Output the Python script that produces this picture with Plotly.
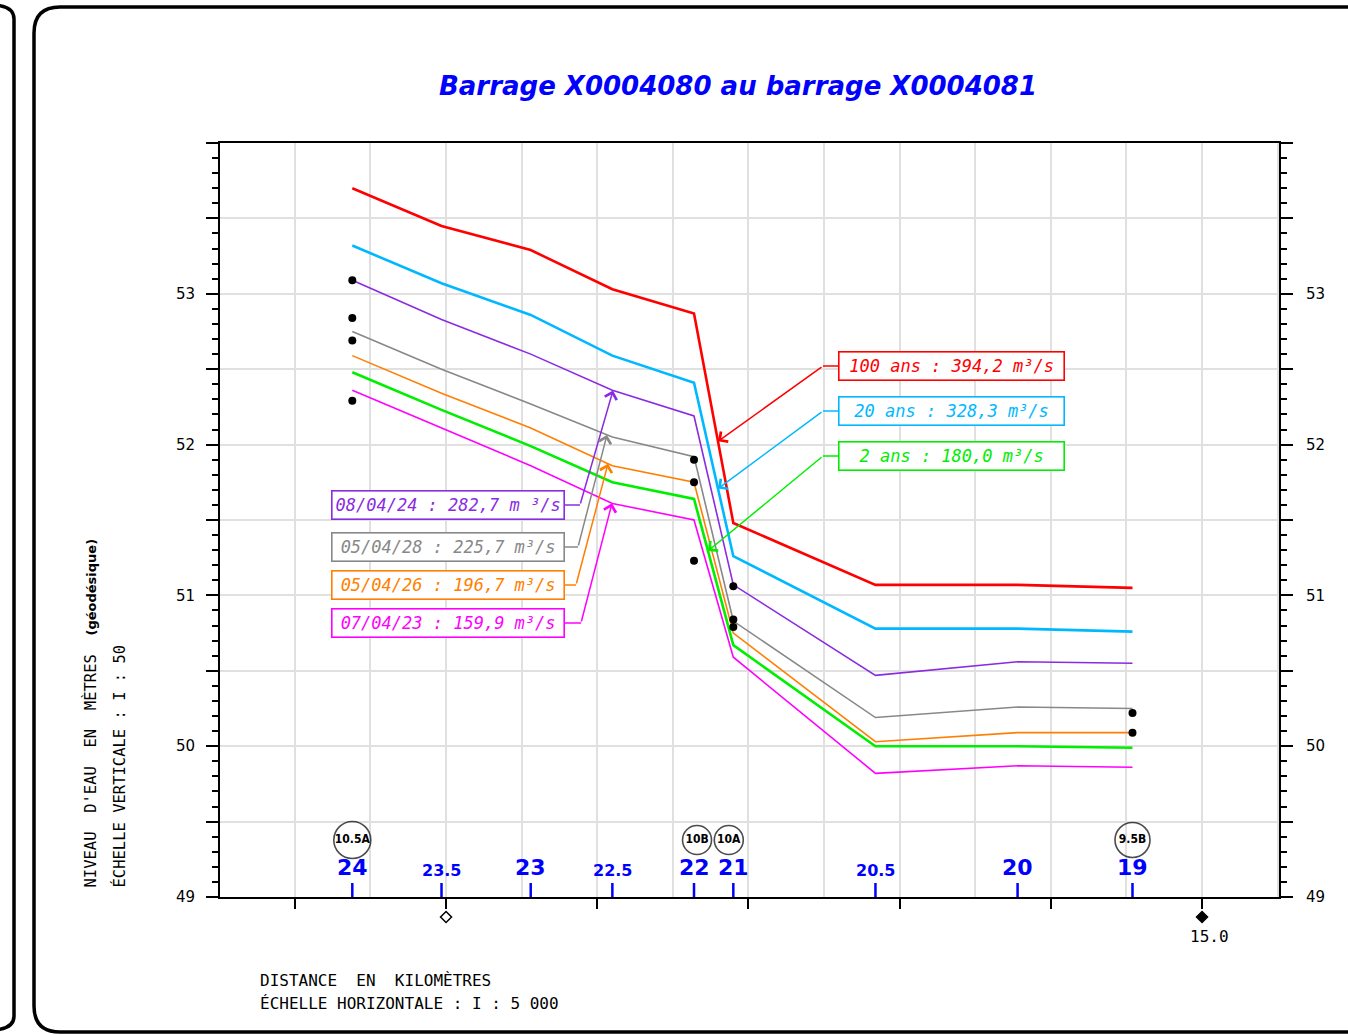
import numpy as np
import plotly.graph_objects as go

# profils en travers (nom) et leur position en km
stations = ["24", "23.5", "23", "22.5", "22", "21", "20.5", "20", "19"]
station_km = [15.562, 15.503, 15.444, 15.390, 15.336, 15.310, 15.216, 15.122, 15.046]

# niveaux d'eau calculés (m)
q100 = [53.70, 53.45, 53.29, 53.03, 52.87, 51.48, 51.07, 51.07, 51.05]
q20 = [53.32, 53.07, 52.86, 52.59, 52.41, 51.26, 50.78, 50.78, 50.76]
q2 = [52.48, 52.23, 51.99, 51.75, 51.64, 50.67, 50.00, 50.00, 49.99]
ev_080424 = [53.09, 52.83, 52.60, 52.36, 52.19, 51.07, 50.47, 50.56, 50.55]
ev_050428 = [52.75, 52.50, 52.27, 52.05, 51.92, 50.83, 50.19, 50.26, 50.25]
ev_050426 = [52.59, 52.34, 52.11, 51.86, 51.75, 50.75, 50.03, 50.09, 50.09]
ev_070423 = [52.36, 52.11, 51.86, 51.61, 51.50, 50.59, 49.82, 49.87, 49.86]

# niveaux observés
obs_station = ["24", "24", "24", "24", "22", "22", "22", "21", "21", "21", "19", "19"]
obs_level = [53.09, 52.84, 52.69, 52.29, 51.90, 51.75, 51.23, 51.06, 50.84, 50.79, 50.22, 50.09]

# repères (cercles)
markers_name = ["10.5A", "10B", "10A", "9.5B"]
markers_km = [15.562, 15.334, 15.313, 15.046]

# bornes kilométriques (losanges)
pk_km = [15.5, 15.0]
pk_label = ["", "15.0"]

# graduations de l'axe des distances
x_major = [15.0, 15.1, 15.2, 15.3, 15.4, 15.5, 15.6]
x_grid = [14.95, 15.05, 15.15, 15.25, 15.35, 15.45, 15.55]

legend_text = {
    "q100": "100 ans : 394,2 m³/s",
    "q20": "20 ans : 328,3 m³/s",
    "q2": "2 ans : 180,0 m³/s",
    "ev_080424": "08/04/24 : 282,7 m ³/s",
    "ev_050428": "05/04/28 : 225,7 m³/s",
    "ev_050426": "05/04/26 : 196,7 m³/s",
    "ev_070423": "07/04/23 : 159,9 m³/s",
}

# --- géométrie de la page (pixels) ---
W, H = 1348, 1035
PL, PR, PT, PB = 220, 1279, 143, 897
X_RANGE = [15.6495, 14.9491]
Y_RANGE = [49, 54]


def px(x):
    return (x - PL) / (PR - PL)


def py(y):
    return (PB - y) / (PB - PT)


def kx(x):
    return X_RANGE[0] + (x - PL) / (PR - PL) * (X_RANGE[1] - X_RANGE[0])


def xk(k):
    # km -> pixel
    return PL + (k - X_RANGE[0]) / (X_RANGE[1] - X_RANGE[0]) * (PR - PL)


def my(y):
    return Y_RANGE[0] + (PB - y) / (PB - PT) * (Y_RANGE[1] - Y_RANGE[0])


km = np.array(station_km)


def level_at(series, x_pix):
    return float(np.interp(kx(x_pix), km[::-1], np.array(series)[::-1]))


series = [
    ("q100", q100, "#ff0000", 2.6),
    ("q20", q20, "#00b8ff", 2.6),
    ("q2", q2, "#00ee00", 2.6),
    ("ev_080424", ev_080424, "#8a2be2", 1.6),
    ("ev_050428", ev_050428, "#888888", 1.6),
    ("ev_050426", ev_050426, "#ff7f00", 1.6),
    ("ev_070423", ev_070423, "#ff00ff", 1.6),
]

fig = go.Figure()

for name, vals, color, width in series:
    fig.add_trace(go.Scatter(x=station_km, y=vals, mode="lines",
                             line=dict(color=color, width=width),
                             hoverinfo="skip", showlegend=False))

km_of = dict(zip(stations, station_km))
fig.add_trace(go.Scatter(x=[km_of[s] for s in obs_station], y=obs_level, mode="markers",
                         marker=dict(color="black", size=8), showlegend=False))

# petits traits bleus des profils
tx, ty = [], []
for k in station_km:
    tx += [k, k, None]
    ty += [49, my(883), None]
fig.add_trace(go.Scatter(x=tx, y=ty, mode="lines", line=dict(color="#0000ff", width=2.5),
                         hoverinfo="skip", showlegend=False))

# cercles des repères
circle_size = [37, 29, 29, 35]
fig.add_trace(go.Scatter(x=markers_km, y=[my(840)] * len(markers_km), mode="markers+text",
                         text=markers_name, textposition="middle center",
                         textfont=dict(family="DejaVu Sans Condensed, DejaVu Sans", size=12,
                                       color="black", weight="bold"),
                         marker=dict(symbol="circle-open", size=circle_size, color="black",
                                     line=dict(width=1.6)),
                         showlegend=False))

# trace fantôme pour l'axe de droite
fig.add_trace(go.Scatter(x=[None], y=[None], yaxis="y2", showlegend=False))

annotations = []
shapes = []

# noms des profils
for s, k in zip(stations, station_km):
    big = "." not in s
    annotations.append(dict(x=k, y=py(882), xref="x", yref="paper", text=s, showarrow=False,
                            xanchor="center", yanchor="bottom",
                            font=dict(family="DejaVu Sans", size=22 if big else 16,
                                      color="#0000ff", weight="bold")))

# losanges des bornes kilométriques
for k, lab in zip(pk_km, pk_label):
    cx, cy, d = xk(k), 917, 5.5
    path = (f"M {px(cx)},{py(cy - d)} L {px(cx + d)},{py(cy)} L {px(cx)},{py(cy + d)} "
            f"L {px(cx - d)},{py(cy)} Z")
    shapes.append(dict(type="path", xref="paper", yref="paper", path=path,
                       line=dict(color="black", width=1.5),
                       fillcolor="black" if lab else "white"))
    if lab:
        annotations.append(dict(x=k, y=py(936), xref="x", yref="paper", showarrow=False, text=lab,
                                xanchor="left", xshift=-14, yanchor="middle",
                                font=dict(family="DejaVu Sans Mono", size=16, color="black")))

# boîtes de légende + flèches
legend_font = dict(family="DejaVu Sans Mono", size=17, style="italic")
right_boxes = [("q100", 366, 718), ("q20", 411, 718), ("q2", 456, 708)]
left_boxes = [("ev_080424", 505, 613, 580), ("ev_050428", 547, 607, 578),
              ("ev_050426", 585, 608, 576), ("ev_070423", 623, 612, 581)]
colors = {n: c for n, _, c, _ in series}
data = {n: v for n, v, _, _ in series}

for name, ybox, tip in right_boxes:
    c = colors[name]
    annotations.append(dict(x=px(951.5), y=py(ybox), xref="paper", yref="paper",
                            text=legend_text[name], showarrow=False, xanchor="center", yanchor="middle",
                            width=224, height=27, bordercolor=c, borderwidth=1.6, borderpad=0,
                            bgcolor="white", font=dict(legend_font, color=c)))
    shapes.append(dict(type="line", xref="paper", yref="paper", x0=px(823), x1=px(838),
                       y0=py(ybox), y1=py(ybox), line=dict(color=c, width=1.5)))
    annotations.append(dict(x=kx(tip), y=level_at(data[name], tip), xref="x", yref="y",
                            ax=kx(823), ay=my(ybox), axref="x", ayref="y", text="",
                            showarrow=True, arrowhead=4, arrowsize=1.6, arrowwidth=1.5,
                            arrowcolor=c))

for name, ybox, tip, tail in left_boxes:
    c = colors[name]
    annotations.append(dict(x=px(447.5), y=py(ybox), xref="paper", yref="paper",
                            text=legend_text[name], showarrow=False, xanchor="center", yanchor="middle",
                            width=231, height=27, bordercolor=c, borderwidth=1.6, borderpad=0,
                            bgcolor="white", font=dict(legend_font, color=c)))
    shapes.append(dict(type="line", xref="paper", yref="paper", x0=px(565), x1=px(tail),
                       y0=py(ybox), y1=py(ybox), line=dict(color=c, width=1.5)))
    annotations.append(dict(x=kx(tip), y=level_at(data[name], tip), xref="x", yref="y",
                            ax=kx(tail), ay=my(ybox), axref="x", ayref="y", text="",
                            showarrow=True, arrowhead=4, arrowsize=1.6, arrowwidth=1.5,
                            arrowcolor=c))

# textes
label_font = dict(family="DejaVu Sans Mono", size=15.5, color="black")
annotations += [
    dict(x=px(738), y=py(86), xref="paper", yref="paper", showarrow=False,
         text="Barrage X0004080 au barrage X0004081", xanchor="center", yanchor="middle",
         font=dict(family="DejaVu Sans", size=26, color="#0000ff", weight="bold", style="italic")),
    dict(x=px(90), y=py(890), xref="paper", yref="paper", showarrow=False, textangle=-90,
         xanchor="center", yanchor="bottom",
         text="NIVEAU  D'EAU  EN  MÈTRES  "
              "<b><span style='font-family:DejaVu Sans;font-size:13px'>(géodésique)</span></b>",
         font=label_font),
    dict(x=px(119), y=py(890), xref="paper", yref="paper", showarrow=False, textangle=-90,
         xanchor="center", yanchor="bottom", text="ÉCHELLE VERTICALE : I : 50",
         font=label_font),
    dict(x=px(258), y=py(980), xref="paper", yref="paper", showarrow=False, xanchor="left",
         yanchor="middle", text="DISTANCE  EN  KILOMÈTRES",
         font=dict(label_font, size=16)),
    dict(x=px(258), y=py(1003), xref="paper", yref="paper", showarrow=False, xanchor="left",
         yanchor="middle", text="ÉCHELLE HORIZONTALE : I : 5 000",
         font=dict(label_font, size=16)),
]

# cadres arrondis
r = 26
x0, y0, x1, y1 = 34, 7, 1400, 1032
frame = (f"M {px(x1)},{py(y0)} L {px(x0 + r)},{py(y0)} Q {px(x0)},{py(y0)} {px(x0)},{py(y0 + r)} "
         f"L {px(x0)},{py(y1 - r)} Q {px(x0)},{py(y1)} {px(x0 + r)},{py(y1)} L {px(x1)},{py(y1)}")
shapes.append(dict(type="path", xref="paper", yref="paper", path=frame,
                   line=dict(color="black", width=3.5)))
rr = 14
left_panel = (f"M {px(-10)},{py(5)} Q {px(14)},{py(5)} {px(14)},{py(5 + rr)} "
              f"L {px(14)},{py(1030 - rr)} Q {px(14)},{py(1030)} {px(-10)},{py(1030)}")
shapes.append(dict(type="path", xref="paper", yref="paper", path=left_panel,
                   line=dict(color="black", width=3.5)))

ytick_vals = list(np.arange(49, 54.01, 0.5))
ytick_text = [str(int(v)) if v == int(v) and v < 54 else "" for v in ytick_vals]
yaxis_common = dict(range=Y_RANGE, tickmode="array", tickvals=ytick_vals, ticktext=ytick_text,
                    ticks="outside", ticklen=12, tickwidth=2, tickcolor="black",
                    showline=True, linecolor="black", linewidth=2,
                    tickfont=dict(family="DejaVu Sans", size=15, color="black"),
                    minor=dict(tickmode="linear", tick0=49, dtick=0.1, ticks="outside",
                               ticklen=6, tickwidth=2, tickcolor="black", showgrid=False),
                    zeroline=False, fixedrange=True)

fig.update_layout(
    width=W, height=H,
    margin=dict(l=PL, r=W - PR, t=PT, b=H - PB),
    paper_bgcolor="white", plot_bgcolor="white",
    showlegend=False, hovermode=False,
    xaxis=dict(range=X_RANGE, tickmode="array", tickvals=x_major, ticktext=[""] * len(x_major),
               ticks="outside", ticklen=10, tickwidth=2, tickcolor="black",
               showticklabels=False, showline=True, linecolor="black", linewidth=2, mirror=True,
               showgrid=True, gridcolor="#e0e0e0", gridwidth=2,
               minor=dict(tickmode="array", tickvals=x_grid, showgrid=True,
                          gridcolor="#e0e0e0", gridwidth=2, ticks=""),
               zeroline=False, fixedrange=True),
    yaxis=dict(yaxis_common, side="left", showgrid=True, gridcolor="#e0e0e0", gridwidth=2,
               ticklabelstandoff=8),
    yaxis2=dict(yaxis_common, side="right", overlaying="y", showgrid=False, ticklabelstandoff=10),
    annotations=annotations,
    shapes=shapes,
)

fig.write_html("out.html", config={"displayModeBar": False},
               post_script="document.body.style.margin='0';document.body.style.overflow='hidden';")
